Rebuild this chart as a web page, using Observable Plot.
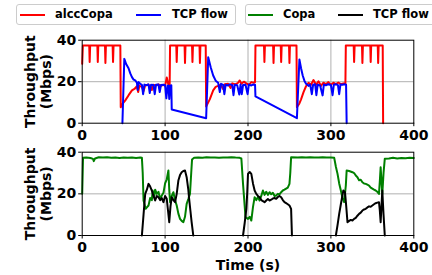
<!DOCTYPE html>
<html>
<head>
<meta charset="utf-8">
<script src="https://cdn.jsdelivr.net/npm/d3@7"></script>
<script src="https://cdn.jsdelivr.net/npm/@observablehq/plot@0.6"></script>
<style>
  html, body { margin: 0; padding: 0; background: white; }
  #wrap { position: relative; width: 432px; height: 275px; overflow: hidden; font-family: "DejaVu Sans", sans-serif; font-weight: bold; }
  #wrap svg { position: absolute; left: 0; overflow: visible; }
  .lg { position: absolute; top: 4px; height: 21px; border: 1px solid #cccccc; border-radius: 3px; background: white; box-sizing: border-box; z-index: 5; }
  .sw { position: absolute; top: 8.5px; height: 2px; width: 25px; }
  .tx { position: absolute; top: 1px; font-size: 11.5px; line-height: 17px; color: black; white-space: nowrap; }
</style>
</head>
<body>
<div id="wrap"></div>
<script>
// ---- data (time s, throughput Mbps) ----
const alccCopa = [
  [0,28.6],[0.8,37.4],[8.5,37.4],[9,29.5],[9.6,37.4],[18.3,37.4],[18.8,29.5],[19.4,37.4],
  [27.5,37.4],[28,29],[28.6,37.4],[36.7,37.4],[37.2,29.5],[37.8,37.4],[46,37.4],[46.5,7.7],
  [49,9.5],[52,11],[56,13.5],[60,15.8],[63,16.5],[66,17.8],[67.5,15],[69,18],[72,17.5],[74,15.5],
  [76,18.2],[79,18.6],[82,18],[84,16],[85.5,18.5],[89,18.2],[92,18.7],[95,18],[98,18.5],[100,18],
  [102,22],[104,18.5],[105.5,18.6],[106,37.4],[113.5,37.4],[114,29.5],[114.6,37.4],[123.5,37.4],
  [124,29],[124.6,37.4],[132.5,37.4],[133,29.5],[133.6,37.4],[141.5,37.4],[142,29],[142.6,37.4],
  [149,37.4],[149.5,8],[154,11.6],[158,15.8],[161,17.5],[164,18],[167,18.6],[170,16.5],[172,18.8],
  [176,19],[179,17],[181,19.2],[185,18.7],[188,19.5],[190,20.6],[192,19],[195,20],[198,19.2],
  [201,18.5],[204,19.8],[207,19.5],[208.5,19.8],[209,37.4],[219.3,37.4],[219.8,29.5],[220.4,37.4],
  [230.3,37.4],[230.8,29],[231.4,37.4],[239.5,37.4],[240,29.5],[240.6,37.4],[249.5,37.4],[250,29],
  [250.6,37.4],[258.5,37.4],[259,7.7],[262,9.5],[264,11.5],[267,15],[270,17.8],[273,19.5],[276,18.5],
  [279,20.8],[282,18.5],[285,20.2],[288,18],[291,19.5],[294,18.8],[297,19.8],[300,18.5],[303,19.5],
  [306,18.8],[309,19.6],[312,18.8],[315,19.2],[317.5,19],[318,37.4],[327.5,37.4],[328,29.5],
  [328.6,37.4],[337.5,37.4],[338,29],[338.6,37.4],[347.5,37.4],[348,29.5],[348.6,37.4],[356.5,37.4],
  [357,29],[357.6,37.4],[362.5,37.4],[363,0]
];
const tcpTop = [
  [48.5,0],[50.8,31],[53,28.5],[55.9,26.5],[58,24],[60,22.2],[62,21],[64,20.6],[66,19.5],[67,16],
  [68,19.8],[70,19],[72,18.5],[73.5,14],[75,18.6],[78,18.3],[80,18.7],[81.5,14.5],[83,18.5],[86,18.4],
  [87.5,14],[89,18.5],[92,18.6],[93.5,15],[95,18.4],[98,18.5],[100,18.3],[101.5,12],[103,18],[104,18.2],
  [105,11.7],[106,18],[107.5,18.3],[108,6.6],[149.5,2.4],[152,31.8],[155,27],[158,23],[161,20.5],
  [164,19.5],[166,15],[167.5,19],[170,18.5],[171.5,14],[173,18.5],[176,18.2],[178,18.8],[181,18.3],
  [182.5,13.5],[184,18.5],[187,18.3],[189.5,13.8],[191,18.6],[192.5,14],[194,18.4],[197,18.5],
  [199.5,14],[201,18.6],[204,18.2],[206,18.6],[208.5,18.5],[209,12.9],[259,2.4],[262,30.7],[264,26.5],
  [266,23],[268,20.5],[270,19],[273,18],[275,18.6],[277,14],[278.5,18.5],[281,18.8],[282.5,13.5],
  [284,18.5],[287,18.2],[290,13.4],[291.5,18.6],[294,18.3],[297,18.8],[300,18.4],[302,13.5],
  [303.5,18.5],[306,18.8],[308.5,18.3],[310,14],[311.5,18.6],[314,18.5],[316,18.8],[318.3,18.5],[319,0]
];
const copa = [
  [0,20],[1,37.3],[5,37.5],[10,37.2],[13,36.8],[14,35.7],[15.5,37],[20,37.6],[25,37.4],[30,37.6],
  [35,37.3],[40,37.5],[45,37.2],[50,37.4],[55,37.3],[60,37.5],[65,37.2],[70,37.4],[72,37.3],[73,30],
  [74,16.8],[76.5,12.8],[78,13.5],[80,14.4],[82,18],[84,17],[85,21.6],[87,19],[88,22],[90,20],[92,21],
  [94,17.5],[96,19.2],[98,20.5],[100,25],[102,27],[104,31.2],[105,22],[106,16],[108,19],[110,20.8],
  [112,17],[114,14.4],[116,10.5],[118,8],[120,7],[122,6.4],[124,9],[126,15.2],[128,17.5],[130,20],
  [131.5,30],[132.5,36.5],[135,37.3],[140,37.5],[145,37.3],[150,37.6],[155,37.4],[160,37.5],[165,37.3],
  [170,37.5],[175,37.4],[180,37.6],[185,37.4],[190,37.3],[192,37],[194,24.8],[197,8.8],[200,8],[202,9],
  [204,7.2],[206,13.6],[208,18.4],[210,17],[212,18.5],[214,16.8],[216,19],[218,21.6],[220,19.5],
  [222,21],[224,19.5],[226,20.8],[228,19.8],[230,20.5],[232,19],[234,19.2],[236,20],[238,19.8],
  [240,20.8],[242,21.6],[244,22],[246,22.5],[248,23],[250,24.8],[251,30],[252,37.6],[260,37.5],
  [265,37.6],[270,37.5],[275,37.6],[280,37.4],[285,37.5],[290,37.6],[295,37.4],[300,37.5],[304,37.3],
  [306,33],[308,29.6],[310,25],[312,21.6],[314,18],[316,16],[318,24],[319,31.2],[322,31],[326,30.4],
  [328,30],[330,28.8],[332,28],[334,26.5],[336,26.8],[338,25.6],[340,25],[342,24.8],[344,24.4],
  [346,24],[348,23],[350,22.5],[352,22],[354,21.6],[356,21],[358,20],[359,26],[360,32.8],[361,26],
  [362,20],[363.5,30],[365,36.8],[370,37],[375,37.3],[380,37],[385,37.2],[390,37.1],[395,37.3],[400,37.2]
];
const tcpBottom = [
  [72,0],[74,10],[76,20],[78,22],[80,24.8],[82,23.5],[84,21.6],[86,19],[88,16.8],[90,19],[92,18.4],
  [94,17],[96,18],[98,16],[100,19],[102,17.6],[103.5,12],[105,6.4],[106.5,14],[108,18.4],[110,17],
  [112,16],[114,20],[116,26.4],[118,29],[120,30.4],[122,31],[124,31.2],[126,28],[128,22],[129,17.6],
  [130.5,12],[132,6.4],[134,0],[164,null],
  [194,0],[196,6],[198,12.8],[199,20],[200,29.6],[202,30.5],[204,29.6],[206,25],[208,21.6],[210,20],
  [212,19],[214,18.4],[216,17],[218,16.5],[220,16],[222,16.8],[224,17.5],[226,16.8],[228,17.2],
  [230,17.8],[232,18],[234,17.6],[236,18.5],[238,19],[240,18.4],[242,17],[244,16],[246,15.5],[248,15],
  [250,14.4],[252,12.8],[253,0],[280,null],
  [306,0],[308,5],[310,10.4],[312,15],[315,21.6],[317,20.8],[318.5,14],[320,6.4],[322,7],[324,7.5],
  [326,7.2],[328,8],[330,8.5],[332,9.5],[334,10.4],[336,11],[338,12],[340,12.5],[342,12.8],[344,13.5],
  [346,14],[348,13.8],[350,14.4],[352,15],[354,15.5],[356,15.8],[358,16],[359,12],[360,6.4],[361,14],
  [362,21.6],[363.5,10],[365,0]
];
const xTicks = [0, 100, 200, 300, 400];
const yTicks = [0, 20, 40];
const yLabel = "Throughput\n(Mbps)";
const xLabel = "Time (s)";
const legendTop = ["alccCopa", "TCP flow"];
const legendBottom = ["Copa", "TCP flow"];

// ---- drawing ----
const wrap = document.getElementById("wrap");
const font = "DejaVu Sans";

function panel(series, colors, opts) {
  const marks = [
    Plot.gridX(xTicks.slice(1, -1), {stroke: "#b0b0b0", strokeOpacity: 1, strokeWidth: 1}),
    Plot.gridY(yTicks.slice(1, -1), {stroke: "#b0b0b0", strokeOpacity: 1, strokeWidth: 1}),
    ...series.map((s, i) => Plot.line(s, {x: d => d[0], y: d => d[1], stroke: colors[i], strokeWidth: 2, strokeLinejoin: "round"})),
    Plot.frame({stroke: "black", strokeWidth: 1}),
    Plot.axisX(xTicks, {tickSize: 3.5, tickPadding: 3, fontSize: 14, fontWeight: "bold", label: null}),
    Plot.axisY(yTicks, {tickSize: 3.5, tickPadding: 2.5, fontSize: 14, fontWeight: "bold", label: null}),
    Plot.text([yLabel], {frameAnchor: "left", rotate: -90, dx: -44, lineHeight: 1.15, fontSize: 14, fontWeight: "bold", textAnchor: "middle", lineAnchor: "middle", fill: "black"})
  ];
  if (opts.xl) marks.push(Plot.text([xLabel], {frameAnchor: "bottom", dy: 30, fontSize: 14, fontWeight: "bold", lineAnchor: "middle", fill: "black"}));
  const svg = Plot.plot({
    width: 432, height: opts.height,
    marginLeft: 81.7, marginRight: 18.7, marginTop: opts.mt, marginBottom: opts.mb,
    x: {domain: [0, 400]},
    y: {domain: [0, 40]},
    style: {fontFamily: font, fontWeight: "bold", fontSize: "14px", background: "transparent", overflow: "visible", color: "black"},
    marks
  });
  svg.style.top = opts.top + "px";
  wrap.appendChild(svg);
}

panel([alccCopa, tcpTop], ["#ff0000", "#0000ff"], {top: 0, height: 140, mt: 39.7, mb: 17.3});
panel([copa, tcpBottom], ["#008000", "#000000"], {top: 140, height: 135, mt: 11.7, mb: 40, xl: true});

function legend(left, width, items, colors, pos) {
  const box = document.createElement("div");
  box.className = "lg";
  box.style.left = left + "px";
  box.style.width = width + "px";
  items.forEach((t, i) => {
    const sw = document.createElement("div");
    sw.className = "sw";
    sw.style.left = pos[i][0] + "px";
    sw.style.background = colors[i];
    const tx = document.createElement("div");
    tx.className = "tx";
    tx.style.left = pos[i][1] + "px";
    tx.textContent = t;
    box.appendChild(sw);
    box.appendChild(tx);
  });
  wrap.appendChild(box);
}
legend(16, 220, legendTop, ["#ff0000", "#0000ff"], [[3, 38], [119, 155]]);
legend(245, 200, legendBottom, ["#008000", "#000000"], [[2, 37], [92, 127]]);
</script>
</body>
</html>
